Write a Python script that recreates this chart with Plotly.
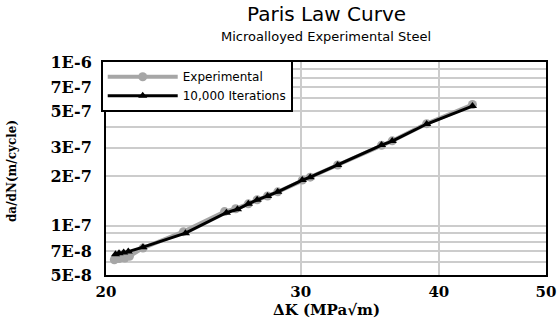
import plotly.graph_objects as go

# Data
k_exp = [20.35, 20.55, 20.8, 21.0, 21.6, 23.5, 25.6, 26.2, 26.9, 27.4, 28.0, 28.6,
         30.1, 30.6, 32.4, 35.5, 36.3, 39.0, 42.9]
dadn_exp = [6.2e-8, 6.3e-8, 6.35e-8, 6.5e-8, 7.3e-8, 9.2e-8, 1.22e-7, 1.27e-7, 1.36e-7,
            1.44e-7, 1.52e-7, 1.61e-7, 1.90e-7, 1.98e-7, 2.35e-7, 3.10e-7, 3.30e-7,
            4.20e-7, 5.50e-7]

k_iter = [20.4, 20.55, 20.75, 20.95, 21.6, 23.6, 25.7, 26.3, 26.9, 27.4, 28.0, 28.6,
          30.1, 30.6, 32.4, 35.5, 36.3, 39.0, 42.9]
dadn_iter = [6.7e-8, 6.8e-8, 6.85e-8, 6.95e-8, 7.4e-8, 9.0e-8, 1.20e-7, 1.26e-7, 1.36e-7,
             1.44e-7, 1.52e-7, 1.61e-7, 1.90e-7, 1.98e-7, 2.35e-7, 3.11e-7, 3.29e-7,
             4.18e-7, 5.38e-7]

x_ticks = [20, 30, 40, 50]
x_tick_text = ["20", "30", "40", "50"]
y_ticks = [5e-8, 7e-8, 1e-7, 2e-7, 3e-7, 5e-7, 7e-7, 1e-6]
y_tick_text = ["5E-8", "7E-8", "1E-7", "2E-7", "3E-7", "5E-7", "7E-7", "1E-6"]
y_minor = [6e-8, 8e-8, 9e-8, 4e-7, 6e-7, 8e-7, 9e-7]

fig = go.Figure()
fig.add_trace(go.Scatter(
    x=k_exp, y=dadn_exp, name="Experimental", mode="lines+markers",
    line=dict(color="#a6a6a6", width=4),
    marker=dict(symbol="circle", size=9, color="#a6a6a6"),
))
fig.add_trace(go.Scatter(
    x=k_iter, y=dadn_iter, name="10,000 Iterations", mode="lines+markers",
    line=dict(color="#000000", width=3),
    marker=dict(symbol="triangle-up", size=8, color="#000000"),
))

serif = "DejaVu Serif"
fig.update_layout(
    width=559, height=322,
    margin=dict(l=106, r=13, t=62, b=47),
    paper_bgcolor="white", plot_bgcolor="white",
    showlegend=True,
    legend=dict(
        x=-0.012, y=1.008, xanchor="left", yanchor="top",
        bgcolor="white", bordercolor="black", borderwidth=2,
        font=dict(family="DejaVu Sans", size=12, color="black"),
        tracegroupgap=0, itemwidth=70,
    ),
    xaxis=dict(
        type="log", range=[1.30103, 1.69897],
        tickvals=x_ticks, ticktext=x_tick_text,
        showgrid=True, gridcolor="#cccccc", gridwidth=1.5,
        showline=True, linecolor="black", linewidth=2, mirror=True,
        ticks="", ticklabelstandoff=2,
        tickfont=dict(family=serif, size=15, color="black", weight="bold"),
        zeroline=False, automargin=False,
    ),
    yaxis=dict(
        type="log", range=[-7.30103, -6],
        tickvals=y_ticks, ticktext=y_tick_text,
        showgrid=True, gridcolor="#cccccc", gridwidth=1.5,
        minor=dict(tickvals=y_minor, showgrid=True, gridcolor="#cccccc", gridwidth=1.5, ticks=""),
        showline=True, linecolor="black", linewidth=2, mirror=True,
        ticks="", ticklabelstandoff=9,
        tickfont=dict(family=serif, size=16, color="black", weight="bold"),
        zeroline=False, automargin=False,
    ),
    annotations=[
        dict(text="Paris Law Curve", x=0.5, y=1.2254, xref="paper", yref="paper",
             xanchor="center", yanchor="middle", showarrow=False,
             font=dict(family="DejaVu Sans", size=20, color="black")),
        dict(text="Microalloyed Experimental Steel", x=0.5, y=1.122, xref="paper", yref="paper",
             xanchor="center", yanchor="middle", showarrow=False,
             font=dict(family="DejaVu Sans", size=13, color="black")),
        dict(text="da/dN(m/cycle)", x=-0.215, y=0.49, xref="paper", yref="paper",
             xanchor="center", yanchor="middle", showarrow=False, textangle=-90,
             font=dict(family=serif, size=12, color="black", weight="bold")),
        dict(text="ΔK (MPa√m)", x=0.5, y=-0.165, xref="paper", yref="paper",
             xanchor="center", yanchor="middle", showarrow=False,
             font=dict(family=serif, size=15, color="black", weight="bold")),
    ],
)

fig.write_html("out.html",
               config={"displayModeBar": False},
               post_script="document.body.style.margin='0';document.body.style.overflow='hidden';")
